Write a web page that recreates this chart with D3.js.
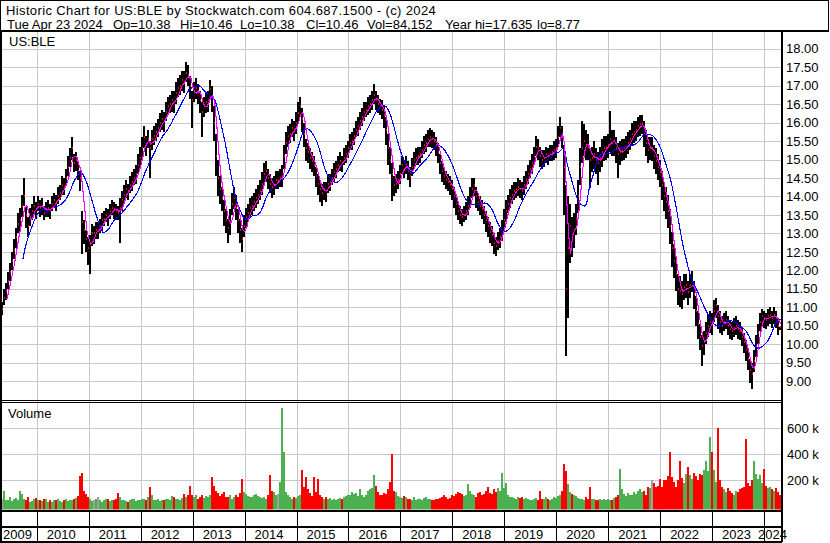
<!DOCTYPE html>
<html><head><meta charset="utf-8">
<script src="https://cdn.jsdelivr.net/npm/d3@7"></script>
<style>
html,body{margin:0;padding:0;background:#fff;}
svg{display:block;font-family:"Liberation Sans",Arial,sans-serif;}
</style></head><body>
<svg id="c" width="830" height="543"></svg>
<script>
// ---------- DATA ----------
const firstDate = "2009-05-04";
const lastDate = "2024-04-23";
const titleText = "Historic Chart for US:BLE by Stockwatch.com 604.687.1500 - (c) 2024";
const quoteFields = ["Tue Apr 23 2024","Op=10.38","Hi=10.46","Lo=10.38","Cl=10.46","Vol=84,152","Year hi=17.635","lo=8.77"];
const symbol = "US:BLE";
const years = [2009,2010,2011,2012,2013,2014,2015,2016,2017,2018,2019,2020,2021,2022,2023,2024];
const priceTicks = [9,9.5,10,10.5,11,11.5,12,12.5,13,13.5,14,14.5,15,15.5,16,16.5,17,17.5,18];
const volumeTicks = [200000,400000,600000];
// bi-weekly closes
const closes = [
10.95,11.25,11.45,11.7,11.95,12.25,12.55,12.9,13.25,13.35,13.75,14.0,13.5,13.2,13.45,13.6,13.75,13.65,13.8,13.7,
13.75,13.55,13.65,13.7,13.6,13.8,13.9,13.85,14.0,14.1,14.3,14.25,14.5,14.8,15.05,15.3,14.9,15.0,14.7,14.5,
13.3,13.1,12.85,12.6,12.7,13.0,13.0,13.1,13.1,13.2,13.35,13.4,13.5,13.45,13.6,13.7,13.65,13.6,13.55,13.7,
13.9,14.05,14.2,14.15,14.3,14.4,14.5,14.6,14.85,15.05,15.3,15.6,15.4,15.55,15.3,15.55,15.65,15.75,15.85,16.0,
16.1,16.05,16.3,16.45,16.5,16.6,16.55,16.8,16.95,17.0,17.15,17.1,17.35,17.3,17.0,16.6,16.85,16.95,16.8,16.6,
16.3,16.45,16.55,16.6,16.9,16.7,16.0,15.1,14.5,14.2,13.95,13.6,13.35,13.15,13.3,13.8,13.95,13.7,13.35,13.1,
12.85,13.2,13.45,13.55,13.7,13.75,13.85,13.95,14.05,14.15,14.35,14.6,14.7,14.5,14.35,14.25,14.3,14.45,14.45,14.5,
14.55,15.1,15.45,15.65,15.7,15.85,15.8,16.0,16.25,16.45,16.1,15.7,15.3,15.2,15.05,14.95,14.85,14.55,14.35,14.2,
14.1,14.2,14.15,14.35,14.4,14.5,14.65,14.75,14.85,14.95,14.9,15.05,15.15,15.3,15.45,15.5,15.65,15.8,15.9,16.05,
16.15,16.3,16.35,16.45,16.5,16.6,16.75,16.6,16.5,16.45,16.35,16.2,15.8,15.3,15.0,14.6,14.3,14.35,14.45,14.6,
14.85,14.75,14.85,14.7,14.55,14.8,15.0,15.05,15.1,15.15,15.25,15.4,15.45,15.55,15.6,15.55,15.5,15.4,15.2,14.9,
14.7,14.55,14.45,14.4,14.3,14.2,14.0,13.8,13.6,13.5,13.45,13.5,13.6,13.75,13.95,14.2,14.3,14.0,13.85,13.75,
13.65,13.5,13.35,13.2,13.05,12.95,12.75,12.65,12.8,12.9,13.1,13.35,13.6,13.8,13.95,14.05,14.15,14.2,14.25,14.2,
14.15,14.3,14.45,14.6,14.75,14.9,15.1,15.35,15.3,15.1,15.0,15.05,15.15,15.1,15.15,15.2,15.25,15.3,15.6,15.85,
15.6,14.8,11.5,12.6,13.2,12.95,13.1,13.4,14.0,14.8,15.3,15.5,15.4,15.35,15.0,15.05,15.15,15.0,14.9,15.05,
15.2,15.3,15.35,15.4,15.55,15.45,15.5,15.3,15.15,15.2,15.25,15.3,15.35,15.45,15.55,15.7,15.75,15.8,15.9,15.95,
16.0,15.7,15.45,15.25,15.3,15.3,15.1,14.95,14.8,14.65,14.3,14.0,13.85,13.6,13.2,12.6,12.25,11.9,11.5,11.45,
11.35,11.55,11.6,11.4,11.6,11.75,11.35,10.9,10.55,10.2,9.95,10.05,10.3,10.5,10.6,10.55,10.9,11.05,10.75,10.6,
10.5,10.6,10.65,10.5,10.4,10.35,10.45,10.5,10.4,10.35,10.2,10.05,9.85,9.6,9.3,9.2,9.55,9.95,10.3,10.6,
10.75,10.7,10.65,10.75,10.8,10.7,10.8,10.7,10.5,10.46];
// high above close, in cents
const wickUp = [
20,25,20,25,25,25,30,25,30,35,30,50,25,25,25,20,25,20,20,20,
20,20,20,20,20,20,20,20,25,20,25,25,25,30,25,30,25,20,25,20,
30,25,25,30,25,25,20,20,20,20,20,20,20,20,20,20,20,20,20,25,
25,25,25,20,25,25,25,25,30,30,30,30,25,25,20,25,25,25,25,25,
25,25,25,25,25,25,30,30,25,30,25,30,30,25,25,25,25,25,25,25,
25,25,25,25,26,30,45,60,50,35,30,30,30,25,35,30,30,35,30,30,
30,30,25,25,25,25,25,25,25,30,30,30,25,25,25,25,25,25,25,25,
30,30,30,25,25,25,25,30,30,25,30,30,25,25,25,25,25,25,25,25,
25,20,25,25,20,25,25,20,25,25,20,25,25,20,25,25,20,25,25,25,
25,25,20,25,25,25,30,25,25,20,25,25,35,40,35,30,25,25,25,25,
25,25,25,25,25,25,20,25,25,20,25,25,25,25,26,25,25,20,25,25,
25,25,25,20,25,25,25,25,25,25,20,25,25,25,30,30,21,25,25,25,
25,25,25,25,25,25,25,25,25,25,25,30,30,25,25,25,25,20,25,25,
25,25,25,25,25,25,25,30,25,25,25,20,20,20,25,20,25,25,30,29,
30,60,280,140,60,50,45,40,45,50,75,45,40,35,30,30,35,30,30,30,
35,35,30,30,77,35,30,30,30,30,30,25,30,30,25,30,30,25,25,25,
20,35,35,35,30,30,30,35,35,35,40,40,40,45,45,45,45,45,40,40,
35,35,30,30,30,23,35,40,35,35,30,30,30,30,30,30,30,20,30,30,
25,25,25,25,25,25,25,25,25,25,25,25,25,30,30,30,30,30,25,25,
20,20,20,20,20,20,20,20,20,0];
// low below close, in cents
const wickDown = [
15,20,25,20,25,25,25,30,25,30,30,25,35,30,25,25,25,25,20,25,
25,20,20,25,20,20,20,25,20,20,25,20,20,25,25,30,25,30,25,35,
86,40,35,45,80,35,30,25,25,20,25,20,20,25,20,20,25,25,20,95,
30,25,25,25,20,25,20,25,25,30,30,30,30,25,80,30,25,25,25,25,
30,30,25,25,25,30,30,30,25,25,30,30,25,30,35,75,30,30,30,35,
70,30,30,30,30,40,50,55,50,40,35,40,35,40,35,30,30,35,35,35,
35,30,30,25,25,25,25,25,25,25,30,30,30,30,25,30,25,25,25,25,
30,35,30,30,25,25,30,30,30,30,35,35,35,30,30,30,30,30,30,35,
35,30,30,25,25,20,25,25,20,25,25,20,25,25,20,25,25,20,25,25,
25,25,20,25,25,25,25,25,25,25,25,35,40,45,40,72,30,25,25,25,
25,25,25,25,30,25,25,20,25,25,20,25,25,20,25,25,25,30,30,30,
30,25,25,25,25,30,30,30,25,25,25,20,25,25,25,25,30,30,25,25,
25,25,30,30,30,30,30,26,25,30,30,30,30,25,25,25,25,25,25,25,
25,25,25,25,25,30,25,25,30,30,25,25,25,25,20,25,25,25,25,25,
30,130,182,190,100,60,50,45,45,50,40,40,40,35,76,40,40,40,60,40,
40,35,35,35,35,35,40,40,65,35,30,30,30,30,30,30,30,30,30,30,
30,35,35,35,30,35,35,35,35,40,40,40,45,45,50,50,45,45,45,45,
40,35,35,35,35,35,40,40,40,35,54,35,30,30,30,30,30,35,35,30,
25,25,25,25,25,25,25,25,25,25,25,30,30,30,35,41,30,30,30,25,
25,25,25,25,25,25,25,25,25,8];
// volume, thousands of shares
const volumes = [
60,115,45,50,70,40,55,65,50,115,95,60,45,70,35,40,55,65,45,50,
40,55,60,35,45,30,50,45,55,40,35,45,60,40,50,45,55,65,80,230,
260,120,95,70,60,40,45,55,75,50,35,45,60,55,40,50,45,60,105,70,
45,50,40,35,45,55,60,40,45,50,55,60,45,70,148,85,50,45,60,40,
45,50,60,55,45,80,70,55,60,50,65,95,75,85,160,90,70,85,60,75,
90,65,80,70,85,225,160,120,100,80,95,110,70,75,85,60,70,90,75,100,
210,110,95,80,75,70,85,95,80,70,65,75,60,90,237,120,110,85,95,190,
760,420,110,90,75,60,70,65,80,90,280,150,225,130,100,80,225,110,210,85,
70,60,75,55,65,50,60,45,55,65,60,70,80,90,85,110,95,100,80,130,
85,75,90,120,130,140,240,160,110,90,85,100,95,130,190,405,120,110,80,75,
65,80,70,55,60,50,75,45,55,60,50,65,70,55,60,45,50,60,55,65,
70,85,75,60,65,90,80,95,110,100,95,80,90,170,120,95,85,75,100,110,
90,95,120,150,105,95,130,110,140,120,257,140,180,85,75,70,65,60,75,65,
70,55,65,60,50,45,55,65,50,120,55,60,75,60,50,55,70,65,80,90,
120,325,275,170,110,95,90,80,65,55,60,50,70,55,150,60,55,45,50,55,
45,55,50,60,45,50,65,70,90,290,130,95,80,100,85,90,110,95,120,130,
110,120,90,150,140,200,180,150,160,210,150,200,200,230,420,225,190,150,200,350,
220,180,250,300,240,210,260,230,200,250,240,280,350,270,530,420,280,190,600,200,
150,130,110,140,120,100,90,120,110,130,140,150,515,180,160,200,350,245,210,240,
180,290,160,140,150,130,120,140,110,84];
const fastPeriod = 3, slowPeriod = 11;

// ---------- LAYOUT ----------
const L = 2, R = 781;
const priceTop = 32, priceBot = 400;
const volTop = 403, volBot = 509.5;
const gridCol = "#c8c8c8";
const svg = d3.select("#c");
const parse = d3.utcParse("%Y-%m-%d");
const t0 = parse(firstDate), t1 = parse(lastDate);
const n = closes.length;
const dates = d3.range(n).map(i => new Date(+t0 + (t1 - t0) * i / (n - 1)));
const x = d3.scaleUtc().domain([parse("2009-05-01"), parse("2024-04-30")]).range([L, R]);
const y = d3.scaleLinear().domain([9, 18]).range([381.1, 48.8]);
const yv = d3.scaleLinear().domain([0, 600000]).range([506.3, 428.3]);

const bars = closes.map((c, i) => ({
  d: dates[i], c, hi: c + (wickUp[i] || 0) / 100, lo: c - (wickDown[i] || 0) / 100,
  v: volumes[i] * 1000, prev: i > 0 ? closes[i - 1] : c
}));
function sma(p) {
  return closes.map((c, i) => i < p - 1 ? null : d3.mean(closes.slice(i - p + 1, i + 1)));
}
const fast = sma(fastPeriod), slow = sma(slowPeriod);

svg.append("rect").attr("width", 830).attr("height", 543).attr("fill", "#fff");

const defs = svg.append("defs");
defs.append("clipPath").attr("id", "pc").append("rect").attr("x", L).attr("y", priceTop).attr("width", R - L).attr("height", priceBot - priceTop);
defs.append("clipPath").attr("id", "vc").append("rect").attr("x", L).attr("y", volTop).attr("width", R - L).attr("height", volBot - volTop);

// gridlines
const g = svg.append("g").attr("shape-rendering", "crispEdges");
const yearBounds = years.slice(1).map(yr => Date.UTC(yr, 0, 1));
g.selectAll(".vg").data(yearBounds).join("line")
  .attr("x1", d => Math.round(x(d)) + 0.5).attr("x2", d => Math.round(x(d)) + 0.5)
  .attr("y1", priceTop).attr("y2", volBot).attr("stroke", gridCol);
g.selectAll(".hg").data(priceTicks).join("line")
  .attr("x1", L).attr("x2", R).attr("y1", d => Math.round(y(d)) + 0.5).attr("y2", d => Math.round(y(d)) + 0.5)
  .attr("stroke", gridCol);
g.selectAll(".hv").data(volumeTicks).join("line")
  .attr("x1", L).attr("x2", R).attr("y1", d => Math.round(yv(d)) + 0.5).attr("y2", d => Math.round(yv(d)) + 0.5)
  .attr("stroke", gridCol);

// price bars
const pg = svg.append("g").attr("clip-path", "url(#pc)").attr("shape-rendering", "crispEdges");
pg.selectAll(".b").data(bars).join("rect")
  .attr("x", d => Math.round(x(d.d)) - 1).attr("width", 2)
  .attr("y", d => Math.round(y(d.hi)))
  .attr("height", d => Math.max(1, Math.round(y(d.lo)) - Math.round(y(d.hi))))
  .attr("fill", "#000");
pg.selectAll(".t").data(bars).join("rect")
  .attr("x", d => Math.round(x(d.d))).attr("width", 1)
  .attr("y", d => Math.round(y(d.c)) - 1).attr("height", 2)
  .attr("fill", "#ff0000");
const line = arr => d3.line().defined(d => d != null).x((d, i) => x(dates[i]) + 0.5).y(d => y(d))(arr);
pg.append("path").attr("d", line(slow)).attr("fill", "none").attr("stroke", "#0000ff").attr("stroke-width", 1.1);
pg.append("path").attr("d", line(fast)).attr("fill", "none").attr("stroke", "#ff00ff").attr("stroke-width", 1.1);

// volume bars
const vg = svg.append("g").attr("clip-path", "url(#vc)").attr("shape-rendering", "crispEdges");
vg.selectAll(".v").data(bars).join("rect")
  .attr("x", d => Math.round(x(d.d)) - 1).attr("width", 2)
  .attr("y", d => Math.round(yv(d.v)))
  .attr("height", d => volBot - Math.round(yv(d.v)))
  .attr("fill", d => d.c > d.prev ? "#4caf50" : d.c < d.prev ? "#ff0000" : "#a0a0a0");

// frame lines
const f = svg.append("g").attr("shape-rendering", "crispEdges").attr("stroke", "#000");
f.append("rect").attr("x", 0.5).attr("y", 0.5).attr("width", 828).attr("height", 31).attr("fill", "none").attr("stroke-width", 1);
f.append("line").attr("x1", 0).attr("x2", 829).attr("y1", 31).attr("y2", 31).attr("stroke-width", 2);
f.append("line").attr("x1", 1).attr("x2", 1).attr("y1", 31).attr("y2", 542).attr("stroke-width", 2);
f.append("line").attr("x1", 782).attr("x2", 782).attr("y1", 31).attr("y2", 542).attr("stroke-width", 2);
f.append("line").attr("x1", 0).attr("x2", 782).attr("y1", 400.5).attr("y2", 400.5).attr("stroke-width", 1);
f.append("line").attr("x1", 0).attr("x2", 782).attr("y1", 402.5).attr("y2", 402.5).attr("stroke-width", 1);
f.append("line").attr("x1", 0).attr("x2", 782).attr("y1", 510.5).attr("y2", 510.5).attr("stroke-width", 2);
f.append("line").attr("x1", 0).attr("x2", 782).attr("y1", 527).attr("y2", 527).attr("stroke-width", 2);
f.append("line").attr("x1", 0).attr("x2", 782).attr("y1", 541.5).attr("y2", 541.5).attr("stroke-width", 2);
f.selectAll(".yl").data(yearBounds).join("line")
  .attr("x1", d => Math.round(x(d)) + 0.5).attr("x2", d => Math.round(x(d)) + 0.5)
  .attr("y1", 511).attr("y2", 541).attr("stroke-width", 1);

// texts
const txt = svg.append("g").attr("font-size", 13).attr("fill", "#000");
txt.append("text").attr("x", 6).attr("y", 14.5).style("letter-spacing", "0.37px").text(titleText);
const qx = [7, 113, 180, 240, 306, 367, 445, 537];
txt.selectAll(".q").data(quoteFields).join("text").attr("x", (d, i) => qx[i]).attr("y", 28.5).text(d => d);
txt.append("text").attr("x", 9).attr("y", 46).text(symbol);
txt.append("text").attr("x", 8).attr("y", 418).text("Volume");

// axes
const ay = svg.append("g").attr("transform", `translate(${R + 1},0)`)
  .call(d3.axisRight(y).tickValues(priceTicks).tickFormat(d3.format(".2f")).tickSize(0).tickPadding(4));
const av = svg.append("g").attr("transform", `translate(${R + 1},0)`)
  .call(d3.axisRight(yv).tickValues(volumeTicks).tickFormat(d => (d / 1000) + " k").tickSize(0).tickPadding(5));
[ay, av].forEach(a => {
  a.select(".domain").remove();
  a.selectAll("text").attr("font-size", 13).attr("font-family", "Liberation Sans, Arial, sans-serif").attr("fill", "#000");
});

// year labels
txt.selectAll(".yr").data(years).join("text")
  .attr("x", yr => Math.max(3, Math.min(x(Date.UTC(yr, 0, 1)) + 10, R - 23)))
  .attr("y", 539).text(yr => yr);
</script>
</body></html>
